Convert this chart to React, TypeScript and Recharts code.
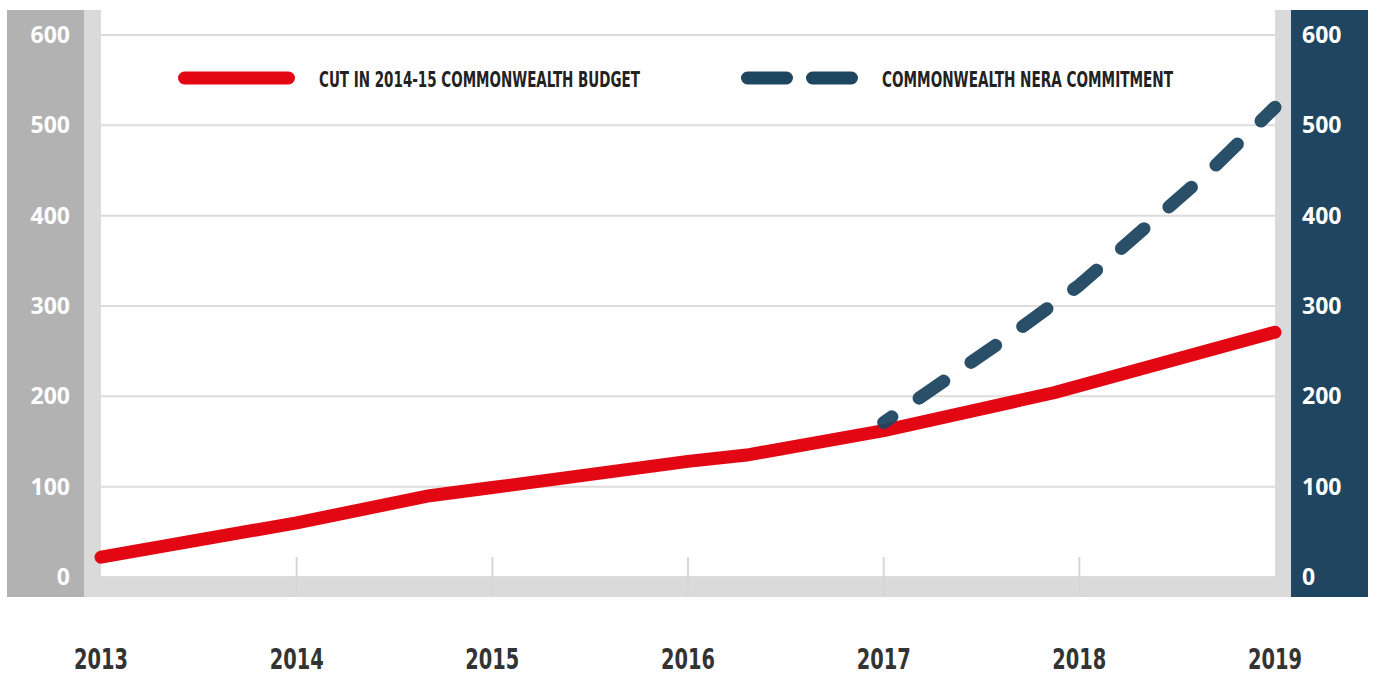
import React from "react";
import { CartesianGrid, Line, LineChart, XAxis, YAxis } from "recharts";

const years = [2013, 2014, 2015, 2016, 2017, 2018, 2019];
const valueTicks = [0, 100, 200, 300, 400, 500, 600];

const budgetCutYears = [2013, 2014, 2014.68, 2015, 2016, 2016.3, 2017, 2017.87, 2019];
const budgetCutValues = [22, 60, 90, 99, 128, 135, 162, 204, 271];

const neraYears = [2017, 2017.67, 2018, 2018.66, 2019];
const neraValues = [171, 271, 323, 448, 520];

const RED = "#e30613";
const NAVY = "#1f4660";
const STRIP = "#dadada";
const condensed = "'Liberation Sans Narrow', 'DejaVu Sans Condensed', 'Roboto Condensed', Arial, sans-serif";

const budgetData = budgetCutYears.map((year, i) => ({ year, value: budgetCutValues[i] }));
const neraData = neraYears.map((year, i) => ({ year, value: neraValues[i] }));

const legendItems = [
  { label: "CUT IN 2014-15 COMMONWEALTH BUDGET", color: RED, dashed: false, textWidth: 321 },
  { label: "COMMONWEALTH NERA COMMITMENT", color: NAVY, dashed: true, textWidth: 291 },
];

function ValueTick({ x, y, payload, textAnchor }: any) {
  return (
    <text x={x} y={y} dy={8} textAnchor={textAnchor} fill="#fff" fontFamily="'Open Sans', sans-serif" fontWeight={700} fontSize={23}>
      {payload.value}
    </text>
  );
}

function YearTick({ x, y, payload, index }: any) {
  const edge = index === 0 || index === years.length - 1;
  return (
    <g>
      {!edge && <line x1={x} x2={x} y1={y - 20} y2={y + 20} stroke="#d6d6d6" strokeWidth={2} />}
      <text x={x} y={y + 92} textAnchor="middle" fill="#333" fontFamily={condensed} fontWeight={700} fontSize={29} textLength={54} lengthAdjust="spacingAndGlyphs">
        {payload.value}
      </text>
    </g>
  );
}

function band(left: number, top: number, width: number, height: number, background: string): React.CSSProperties {
  return { position: "absolute", left, top, width, height, background };
}

export default function App() {
  return (
    <div style={{ position: "absolute", left: 0, top: 0, width: 1375, height: 675, background: "#fff", overflow: "hidden" }}>
      <div style={band(7, 10, 77, 587, "#b2b2b2")} />
      <div style={band(84, 10, 17, 587, STRIP)} />
      <div style={band(84, 577, 1207, 20, STRIP)} />
      <div style={band(1275, 10, 16, 587, STRIP)} />
      <div style={band(1291, 10, 77, 587, "#1f4560")} />

      <div style={{ position: "absolute", left: 0, top: 0 }}>
        <LineChart width={1375} height={675} margin={{ top: 35, right: 0, left: 0, bottom: 0 }}>
          <CartesianGrid vertical={false} yAxisId="left" stroke="#dcdcdc" strokeWidth={2} />
          <XAxis
            dataKey="year"
            type="number"
            domain={[2013, 2019]}
            ticks={years}
            height={98}
            axisLine={false}
            tickLine={false}
            tickSize={0}
            tickMargin={0}
            tick={<YearTick />}
            interval={0}
          />
          <YAxis
            yAxisId="left"
            domain={[0, 600]}
            ticks={valueTicks}
            width={101}
            axisLine={false}
            tickLine={false}
            tickSize={0}
            tickMargin={31}
            tick={<ValueTick />}
            interval={0}
          />
          <YAxis
            yAxisId="right"
            orientation="right"
            domain={[0, 600]}
            ticks={valueTicks}
            width={100}
            axisLine={false}
            tickLine={false}
            tickSize={0}
            tickMargin={27}
            tick={<ValueTick />}
            interval={0}
          />
          <Line
            yAxisId="left"
            data={budgetData}
            dataKey="value"
            type="linear"
            stroke={RED}
            strokeWidth={13}
            strokeLinecap="round"
            strokeLinejoin="round"
            dot={false}
            activeDot={false}
            isAnimationActive={false}
          />
          <Line
            yAxisId="right"
            data={neraData}
            dataKey="value"
            type="linear"
            stroke={NAVY}
            strokeWidth={13}
            strokeDasharray="30 33"
            strokeDashoffset={20}
            strokeLinecap="round"
            strokeLinejoin="round"
            strokeOpacity={0.95}
            dot={false}
            activeDot={false}
            isAnimationActive={false}
          />
        </LineChart>
      </div>

      {/* legend sits inside the plot, drawn as an overlay so it doesn't push the chart down */}
      <svg width={1190} height={50} style={{ position: "absolute", left: 170, top: 53, overflow: "visible" }}>
        {legendItems.map((item, i) => {
          const x0 = i === 0 ? 14.5 : 577.5;
          return (
            <g key={item.label}>
              <line
                x1={x0}
                x2={x0 + 104}
                y1={25}
                y2={25}
                stroke={item.color}
                strokeWidth={13}
                strokeLinecap="round"
                strokeDasharray={item.dashed ? "39 26" : undefined}
              />
              <text
                x={x0 + 134.5}
                y={33.7}
                fill="#222"
                fontFamily={condensed}
                fontWeight={700}
                fontSize={21.5}
                textLength={item.textWidth}
                lengthAdjust="spacingAndGlyphs"
              >
                {item.label}
              </text>
            </g>
          );
        })}
      </svg>
    </div>
  );
}
